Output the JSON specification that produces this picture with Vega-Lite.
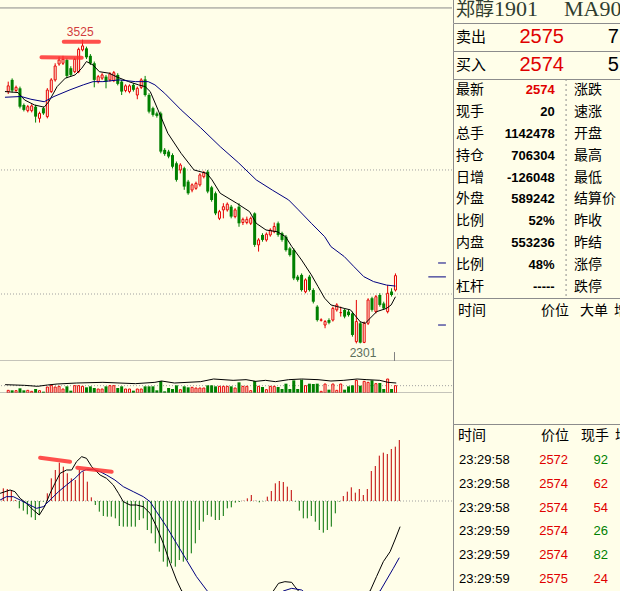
{
"$schema":"https://vega.github.io/schema/vega-lite/v6.json",
"background":"#FFFEE9",
"padding":0,
"spacing":0,
"resolve":{"scale":{"color":"independent"}},
"config":{"view":{"stroke":null},"concat":{"spacing":0},"text":{"font":"Noto Sans CJK SC"}},
"datasets":{
"k":[
{"i":0,"o":3316,"h":3356,"l":3306,"c":3339,"v":8000,"m":3.8},
{"i":1,"o":3363,"h":3369,"l":3312,"c":3320,"v":8000,"m":3.6},
{"i":2,"o":3320,"h":3340,"l":3315,"c":3333,"v":7000,"m":3.3},
{"i":3,"o":3329,"h":3336,"l":3248,"c":3255,"v":14000,"m":0.3},
{"i":4,"o":3262,"h":3268,"l":3236,"c":3242,"v":8000,"m":-2.2},
{"i":5,"o":3239,"h":3262,"l":3232,"c":3255,"v":8000,"m":-2.9},
{"i":6,"o":3239,"h":3265,"l":3232,"c":3258,"v":5000,"m":-4.0},
{"i":7,"o":3255,"h":3262,"l":3191,"c":3215,"v":12000,"m":-4.9},
{"i":8,"o":3208,"h":3235,"l":3191,"c":3228,"v":7000,"m":-5.7},
{"i":9,"o":3249,"h":3255,"l":3222,"c":3228,"v":4000,"m":-4.2},
{"i":10,"o":3215,"h":3330,"l":3208,"c":3322,"v":18000,"m":-0.2},
{"i":11,"o":3316,"h":3370,"l":3310,"c":3363,"v":23000,"m":2.3},
{"i":12,"o":3363,"h":3430,"l":3356,"c":3419,"v":18000,"m":6.8},
{"i":13,"o":3427,"h":3457,"l":3420,"c":3443,"v":20000,"m":9.3},
{"i":14,"o":3430,"h":3460,"l":3423,"c":3446,"v":12000,"m":11.5},
{"i":15,"o":3443,"h":3450,"l":3370,"c":3379,"v":20000,"m":10.3},
{"i":16,"o":3410,"h":3418,"l":3376,"c":3383,"v":7000,"m":8.3},
{"i":17,"o":3396,"h":3453,"l":3390,"c":3446,"v":22000,"m":6.8},
{"i":18,"o":3396,"h":3493,"l":3390,"c":3486,"v":22000,"m":6.3},
{"i":19,"o":3484,"h":3525,"l":3478,"c":3500,"v":20000,"m":9.3},
{"i":20,"o":3490,"h":3497,"l":3447,"c":3454,"v":17000,"m":8.8},
{"i":21,"o":3460,"h":3467,"l":3423,"c":3430,"v":20000,"m":5.8},
{"i":22,"o":3430,"h":3437,"l":3333,"c":3363,"v":15000,"m":1.1},
{"i":23,"o":3356,"h":3383,"l":3349,"c":3376,"v":12000,"m":-1.2},
{"i":24,"o":3370,"h":3390,"l":3363,"c":3383,"v":12000,"m":-3.2},
{"i":25,"o":3376,"h":3383,"l":3329,"c":3356,"v":20000,"m":-4.5},
{"i":26,"o":3363,"h":3394,"l":3356,"c":3387,"v":22000,"m":-4.7},
{"i":27,"o":3360,"h":3399,"l":3354,"c":3392,"v":22000,"m":-4.7},
{"i":28,"o":3383,"h":3390,"l":3341,"c":3347,"v":15000,"m":-5.2},
{"i":29,"o":3356,"h":3363,"l":3302,"c":3316,"v":20000,"m":-7.5},
{"i":30,"o":3320,"h":3345,"l":3313,"c":3339,"v":12000,"m":-7.7},
{"i":31,"o":3316,"h":3345,"l":3309,"c":3339,"v":12000,"m":-7.7},
{"i":32,"o":3343,"h":3350,"l":3316,"c":3323,"v":7000,"m":-7.7},
{"i":33,"o":3302,"h":3336,"l":3285,"c":3329,"v":12000,"m":-7.7},
{"i":34,"o":3333,"h":3370,"l":3326,"c":3363,"v":12000,"m":-5.7},
{"i":35,"o":3365,"h":3379,"l":3296,"c":3302,"v":20000,"m":-5.2},
{"i":36,"o":3302,"h":3309,"l":3228,"c":3235,"v":20000,"m":-8.7},
{"i":37,"o":3249,"h":3255,"l":3215,"c":3222,"v":20000,"m":-9.7},
{"i":38,"o":3228,"h":3235,"l":3211,"c":3218,"v":8000,"m":-12.7},
{"i":39,"o":3228,"h":3235,"l":3067,"c":3074,"v":36000,"m":-15.2},
{"i":40,"o":3081,"h":3088,"l":3057,"c":3064,"v":5000,"m":-18.2},
{"i":41,"o":3074,"h":3081,"l":3047,"c":3054,"v":15000,"m":-19.7},
{"i":42,"o":3060,"h":3067,"l":3006,"c":3013,"v":12000,"m":-18.7},
{"i":43,"o":3027,"h":3034,"l":2953,"c":2960,"v":23000,"m":-19.7},
{"i":44,"o":3000,"h":3027,"l":2986,"c":3020,"v":10000,"m":-17.7},
{"i":45,"o":3007,"h":3013,"l":2920,"c":2933,"v":20000,"m":-18.2},
{"i":46,"o":2953,"h":2960,"l":2900,"c":2906,"v":17000,"m":-17.7},
{"i":47,"o":2919,"h":2946,"l":2910,"c":2940,"v":17000,"m":-15.7},
{"i":48,"o":2926,"h":2953,"l":2920,"c":2946,"v":15000,"m":-12.7},
{"i":49,"o":2940,"h":2987,"l":2933,"c":2980,"v":15000,"m":-8.7},
{"i":50,"o":2973,"h":2996,"l":2966,"c":2989,"v":15000,"m":-6.2},
{"i":51,"o":2993,"h":3000,"l":2906,"c":2913,"v":23000,"m":-4.2},
{"i":52,"o":2930,"h":2936,"l":2872,"c":2879,"v":23000,"m":-4.7},
{"i":53,"o":2906,"h":2913,"l":2818,"c":2825,"v":20000,"m":-5.7},
{"i":54,"o":2805,"h":2839,"l":2798,"c":2832,"v":20000,"m":-5.7},
{"i":55,"o":2839,"h":2866,"l":2805,"c":2852,"v":20000,"m":-4.5},
{"i":56,"o":2839,"h":2869,"l":2832,"c":2862,"v":20000,"m":-2.2},
{"i":57,"o":2852,"h":2859,"l":2805,"c":2812,"v":20000,"m":-1.9},
{"i":58,"o":2812,"h":2846,"l":2805,"c":2839,"v":15000,"m":-0.5},
{"i":59,"o":2852,"h":2866,"l":2771,"c":2785,"v":32000,"m":-0.3},
{"i":60,"o":2788,"h":2808,"l":2778,"c":2801,"v":20000,"m":0.1},
{"i":61,"o":2788,"h":2812,"l":2781,"c":2801,"v":20000,"m":0.8},
{"i":62,"o":2785,"h":2812,"l":2778,"c":2805,"v":7000,"m":1.8},
{"i":63,"o":2825,"h":2829,"l":2690,"c":2698,"v":36000,"m":0.1},
{"i":64,"o":2698,"h":2725,"l":2671,"c":2718,"v":20000,"m":-0.4},
{"i":65,"o":2738,"h":2745,"l":2711,"c":2718,"v":18000,"m":-0.1},
{"i":66,"o":2718,"h":2748,"l":2711,"c":2741,"v":10000,"m":1.3},
{"i":67,"o":2738,"h":2765,"l":2731,"c":2758,"v":20000,"m":3.0},
{"i":68,"o":2751,"h":2788,"l":2745,"c":2772,"v":20000,"m":5.3},
{"i":69,"o":2785,"h":2792,"l":2731,"c":2738,"v":18000,"m":6.0},
{"i":70,"o":2745,"h":2751,"l":2711,"c":2718,"v":12000,"m":5.7},
{"i":71,"o":2731,"h":2738,"l":2671,"c":2677,"v":28000,"m":4.3},
{"i":72,"o":2684,"h":2690,"l":2651,"c":2657,"v":12000,"m":3.3},
{"i":73,"o":2677,"h":2684,"l":2556,"c":2563,"v":38000,"m":-0.2},
{"i":74,"o":2570,"h":2577,"l":2550,"c":2557,"v":12000,"m":-2.9},
{"i":75,"o":2577,"h":2583,"l":2510,"c":2516,"v":40000,"m":-5.2},
{"i":76,"o":2509,"h":2563,"l":2503,"c":2557,"v":22000,"m":-5.2},
{"i":77,"o":2570,"h":2577,"l":2510,"c":2516,"v":28000,"m":-4.5},
{"i":78,"o":2516,"h":2523,"l":2462,"c":2469,"v":27000,"m":-6.2},
{"i":79,"o":2449,"h":2455,"l":2389,"c":2395,"v":28000,"m":-8.7},
{"i":80,"o":2394,"h":2402,"l":2389,"c":2396,"v":5000,"m":-9.5},
{"i":81,"o":2375,"h":2395,"l":2362,"c":2389,"v":27000,"m":-8.7},
{"i":82,"o":2395,"h":2402,"l":2378,"c":2384,"v":10000,"m":-7.7},
{"i":83,"o":2395,"h":2449,"l":2389,"c":2442,"v":27000,"m":-3.7},
{"i":84,"o":2436,"h":2463,"l":2429,"c":2456,"v":8000,"m":-0.2},
{"i":85,"o":2425,"h":2449,"l":2409,"c":2425,"v":27000,"m":1.5},
{"i":86,"o":2436,"h":2442,"l":2402,"c":2409,"v":10000,"m":2.8},
{"i":87,"o":2429,"h":2436,"l":2409,"c":2415,"v":20000,"m":4.1},
{"i":88,"o":2422,"h":2429,"l":2328,"c":2335,"v":23000,"m":2.5},
{"i":89,"o":2308,"h":2476,"l":2301,"c":2389,"v":38000,"m":3.6},
{"i":90,"o":2382,"h":2389,"l":2301,"c":2304,"v":22000,"m":1.8},
{"i":91,"o":2305,"h":2389,"l":2302,"c":2382,"v":35000,"m":3.6},
{"i":92,"o":2382,"h":2483,"l":2375,"c":2476,"v":32000,"m":9.0},
{"i":93,"o":2483,"h":2489,"l":2429,"c":2436,"v":38000,"m":10.5},
{"i":94,"o":2429,"h":2496,"l":2422,"c":2489,"v":28000,"m":13.6},
{"i":95,"o":2496,"h":2503,"l":2449,"c":2456,"v":30000,"m":14.5},
{"i":96,"o":2462,"h":2469,"l":2436,"c":2442,"v":12000,"m":14.1},
{"i":97,"o":2429,"h":2536,"l":2422,"c":2503,"v":42000,"m":15.6},
{"i":98,"o":2510,"h":2523,"l":2490,"c":2496,"v":12000,"m":16.3},
{"i":99,"o":2516,"h":2583,"l":2510,"c":2574,"v":22000,"m":18.3}
],
"ma":[
{"i":-0.83,"p":3316,"s":"MA5"},{"i":2.5,"p":3312,"s":"MA5"},{"i":4.2,"p":3282,"s":"MA5"},{"i":6.7,"p":3262,"s":"MA5"},{"i":9.2,"p":3253,"s":"MA5"},{"i":10.4,"p":3276,"s":"MA5"},{"i":12.5,"p":3336,"s":"MA5"},{"i":14.6,"p":3370,"s":"MA5"},{"i":17.1,"p":3383,"s":"MA5"},{"i":18.8,"p":3410,"s":"MA5"},{"i":20.0,"p":3437,"s":"MA5"},{"i":21.7,"p":3423,"s":"MA5"},{"i":23.3,"p":3396,"s":"MA5"},{"i":25.8,"p":3390,"s":"MA5"},{"i":27.9,"p":3374,"s":"MA5"},{"i":30.8,"p":3356,"s":"MA5"},{"i":33.3,"p":3343,"s":"MA5"},{"i":35.0,"p":3336,"s":"MA5"},{"i":36.3,"p":3316,"s":"MA5"},{"i":38.3,"p":3242,"s":"MA5"},{"i":40.8,"p":3148,"s":"MA5"},{"i":44.2,"p":3067,"s":"MA5"},{"i":47.5,"p":3000,"s":"MA5"},{"i":50.8,"p":2986,"s":"MA5"},{"i":52.1,"p":2960,"s":"MA5"},{"i":54.2,"p":2906,"s":"MA5"},{"i":58.4,"p":2866,"s":"MA5"},{"i":61.7,"p":2832,"s":"MA5"},{"i":63.4,"p":2785,"s":"MA5"},{"i":65.9,"p":2758,"s":"MA5"},{"i":68.8,"p":2751,"s":"MA5"},{"i":70.9,"p":2731,"s":"MA5"},{"i":72.5,"p":2691,"s":"MA5"},{"i":75.0,"p":2637,"s":"MA5"},{"i":77.5,"p":2577,"s":"MA5"},{"i":79.2,"p":2530,"s":"MA5"},{"i":80.9,"p":2483,"s":"MA5"},{"i":82.5,"p":2456,"s":"MA5"},{"i":84.2,"p":2449,"s":"MA5"},{"i":85.9,"p":2442,"s":"MA5"},{"i":87.5,"p":2436,"s":"MA5"},{"i":90.0,"p":2388,"s":"MA5"},{"i":91.3,"p":2382,"s":"MA5"},{"i":92.5,"p":2402,"s":"MA5"},{"i":94.2,"p":2429,"s":"MA5"},{"i":96.7,"p":2442,"s":"MA5"},{"i":97.9,"p":2456,"s":"MA5"},{"i":99.0,"p":2489,"s":"MA5"},
{"i":-0.83,"p":3293,"s":"MA20"},{"i":3.3,"p":3296,"s":"MA20"},{"i":5.8,"p":3285,"s":"MA20"},{"i":9.2,"p":3275,"s":"MA20"},{"i":11.7,"p":3296,"s":"MA20"},{"i":15.8,"p":3323,"s":"MA20"},{"i":19.2,"p":3343,"s":"MA20"},{"i":21.7,"p":3356,"s":"MA20"},{"i":24.2,"p":3356,"s":"MA20"},{"i":28.3,"p":3363,"s":"MA20"},{"i":32.5,"p":3356,"s":"MA20"},{"i":35.8,"p":3356,"s":"MA20"},{"i":37.5,"p":3343,"s":"MA20"},{"i":40.0,"p":3309,"s":"MA20"},{"i":44.2,"p":3242,"s":"MA20"},{"i":49.2,"p":3170,"s":"MA20"},{"i":54.2,"p":3094,"s":"MA20"},{"i":58.8,"p":3030,"s":"MA20"},{"i":63.4,"p":2960,"s":"MA20"},{"i":67.5,"p":2919,"s":"MA20"},{"i":71.7,"p":2879,"s":"MA20"},{"i":74.2,"p":2839,"s":"MA20"},{"i":77.5,"p":2785,"s":"MA20"},{"i":80.9,"p":2731,"s":"MA20"},{"i":82.5,"p":2691,"s":"MA20"},{"i":85.9,"p":2651,"s":"MA20"},{"i":88.4,"p":2610,"s":"MA20"},{"i":90.9,"p":2570,"s":"MA20"},{"i":93.4,"p":2550,"s":"MA20"},{"i":96.7,"p":2536,"s":"MA20"},{"i":99.0,"p":2532,"s":"MA20"}
],
"ml":[
{"i":-0.8,"m":2.3,"s":"DIF"},{"i":1.7,"m":3.3,"s":"DIF"},{"i":2.9,"m":2.8,"s":"DIF"},{"i":4.2,"m":0.8,"s":"DIF"},{"i":5.8,"m":-0.7,"s":"DIF"},{"i":7.5,"m":-2.7,"s":"DIF"},{"i":9.0,"m":-4.2,"s":"DIF"},{"i":10.4,"m":-1.5,"s":"DIF"},{"i":11.7,"m":2.3,"s":"DIF"},{"i":12.9,"m":5.3,"s":"DIF"},{"i":14.2,"m":8.3,"s":"DIF"},{"i":15.8,"m":9.3,"s":"DIF"},{"i":17.1,"m":9.3,"s":"DIF"},{"i":18.3,"m":11.8,"s":"DIF"},{"i":19.6,"m":13.3,"s":"DIF"},{"i":20.8,"m":12.8,"s":"DIF"},{"i":22.1,"m":10.3,"s":"DIF"},{"i":24.2,"m":7.8,"s":"DIF"},{"i":25.8,"m":6.8,"s":"DIF"},{"i":27.5,"m":4.8,"s":"DIF"},{"i":28.8,"m":2.3,"s":"DIF"},{"i":30.0,"m":-0.2,"s":"DIF"},{"i":31.7,"m":-1.2,"s":"DIF"},{"i":33.3,"m":-1.2,"s":"DIF"},{"i":35.0,"m":-1.7,"s":"DIF"},{"i":36.7,"m":-3.7,"s":"DIF"},{"i":38.3,"m":-7.7,"s":"DIF"},{"i":40.0,"m":-12.7,"s":"DIF"},{"i":41.7,"m":-18.7,"s":"DIF"},{"i":43.3,"m":-23.7,"s":"DIF"},{"i":44.6,"m":-27.0,"s":"DIF"},{"i":47,"m":-28.4,"s":"DIF"},{"i":51,"m":-30.1,"s":"DIF"},{"i":55,"m":-34.2,"s":"DIF"},{"i":59,"m":-33.6,"s":"DIF"},{"i":63,"m":-32.5,"s":"DIF"},{"i":66,"m":-29.4,"s":"DIF"},{"i":67.5,"m":-27.0,"s":"DIF"},{"i":68.8,"m":-24.7,"s":"DIF"},{"i":70.4,"m":-24.2,"s":"DIF"},{"i":72.1,"m":-24.4,"s":"DIF"},{"i":72.9,"m":-25.7,"s":"DIF"},{"i":73.8,"m":-27.0,"s":"DIF"},{"i":76,"m":-30.6,"s":"DIF"},{"i":80,"m":-36.2,"s":"DIF"},{"i":84,"m":-32.6,"s":"DIF"},{"i":88,"m":-29.2,"s":"DIF"},{"i":91.7,"m":-27.0,"s":"DIF"},{"i":93.3,"m":-22.7,"s":"DIF"},{"i":95.0,"m":-18.2,"s":"DIF"},{"i":96.7,"m":-15.2,"s":"DIF"},{"i":97.9,"m":-11.7,"s":"DIF"},{"i":99.2,"m":-7.7,"s":"DIF"},
{"i":-0.8,"m":0.3,"s":"DEA"},{"i":0.8,"m":1.3,"s":"DEA"},{"i":2.5,"m":1.3,"s":"DEA"},{"i":4.2,"m":0.3,"s":"DEA"},{"i":5.8,"m":-0.7,"s":"DEA"},{"i":8.3,"m":-2.2,"s":"DEA"},{"i":10.0,"m":-1.7,"s":"DEA"},{"i":11.7,"m":0.3,"s":"DEA"},{"i":13.8,"m":2.8,"s":"DEA"},{"i":15.8,"m":4.8,"s":"DEA"},{"i":17.9,"m":6.8,"s":"DEA"},{"i":19.6,"m":8.8,"s":"DEA"},{"i":20.8,"m":9.5,"s":"DEA"},{"i":22.5,"m":9.5,"s":"DEA"},{"i":24.2,"m":8.8,"s":"DEA"},{"i":25.8,"m":7.8,"s":"DEA"},{"i":27.9,"m":6.3,"s":"DEA"},{"i":30.0,"m":4.3,"s":"DEA"},{"i":32.5,"m":2.8,"s":"DEA"},{"i":35.0,"m":1.3,"s":"DEA"},{"i":36.7,"m":-0.2,"s":"DEA"},{"i":38.3,"m":-3.2,"s":"DEA"},{"i":40.8,"m":-7.7,"s":"DEA"},{"i":43.3,"m":-12.7,"s":"DEA"},{"i":45.8,"m":-17.7,"s":"DEA"},{"i":48.3,"m":-22.7,"s":"DEA"},{"i":50.8,"m":-26.7,"s":"DEA"},{"i":54,"m":-31,"s":"DEA"},{"i":58,"m":-33.5,"s":"DEA"},{"i":62,"m":-33,"s":"DEA"},{"i":66,"m":-30,"s":"DEA"},{"i":70.0,"m":-27.0,"s":"DEA"},{"i":72.1,"m":-26.2,"s":"DEA"},{"i":74.6,"m":-26.7,"s":"DEA"},{"i":77,"m":-29,"s":"DEA"},{"i":81,"m":-32,"s":"DEA"},{"i":85,"m":-32.5,"s":"DEA"},{"i":89,"m":-30,"s":"DEA"},{"i":94.2,"m":-27.0,"s":"DEA"},{"i":95.8,"m":-23.7,"s":"DEA"},{"i":97.5,"m":-20.2,"s":"DEA"},{"i":99.0,"m":-17.0,"s":"DEA"}
],
"oi":[
{"i":-0.8,"v":25000},{"i":4.2,"v":23000},{"i":7.5,"v":20000},{"i":10,"v":24000},{"i":12.5,"v":27000},{"i":17.5,"v":30000},{"i":24.2,"v":32000},{"i":32.5,"v":28000},{"i":37.5,"v":32000},{"i":39.2,"v":36000},{"i":42.5,"v":30000},{"i":49.2,"v":34000},{"i":52.5,"v":42000},{"i":57.5,"v":38000},{"i":60.8,"v":40000},{"i":63.3,"v":35000},{"i":65.8,"v":38000},{"i":68.3,"v":34000},{"i":71.7,"v":40000},{"i":75,"v":42000},{"i":79.2,"v":40000},{"i":82.5,"v":36000},{"i":85.8,"v":38000},{"i":89.2,"v":42000},{"i":91.7,"v":40000},{"i":95,"v":38000},{"i":97.1,"v":32000},{"i":99.2,"v":30000}
],
"hlk":[{"i":8.5,"i2":18.8,"p":3454,"p2":3452},{"i":14.2,"i2":23.2,"p":3517,"p2":3517}],
"hlm":[{"i":9.2,"i2":16.7,"m":13.0,"m2":11.8},{"i":18.5,"i2":27.1,"m":10.0,"m2":8.8}],
"mk":[{"i":109.9,"i2":111.9,"p":2625},{"i":107.4,"i2":111.9,"p":2569},{"i":109.9,"i2":111.9,"p":2375}],
"lab":[{"i":18.4,"p":3556,"text":"3525","kind":"high"},{"i":90.7,"p":2262,"text":"2301","kind":"low"}],
"cur":[{"i":98.75,"p":2266,"p2":2230}],
"info":[
{"r":1,"k":"最新","v":"2574","k2":"涨跌","t":"price"},
{"r":2,"k":"现手","v":"20","k2":"速涨","t":"n"},
{"r":3,"k":"总手","v":"1142478","k2":"开盘","t":"n"},
{"r":4,"k":"持仓","v":"706304","k2":"最高","t":"n"},
{"r":5,"k":"日增","v":"-126048","k2":"最低","t":"n"},
{"r":6,"k":"外盘","v":"589242","k2":"结算价","t":"n"},
{"r":7,"k":"比例","v":"52%","k2":"昨收","t":"n"},
{"r":8,"k":"内盘","v":"553236","k2":"昨结","t":"n"},
{"r":9,"k":"比例","v":"48%","k2":"涨停","t":"n"},
{"r":10,"k":"杠杆","v":"-----","k2":"跌停","t":"n"}
],
"ticks":[
{"r":1,"time":"23:29:58","price":"2572","q":"92","d":"dn"},
{"r":2,"time":"23:29:58","price":"2574","q":"62","d":"up"},
{"r":3,"time":"23:29:58","price":"2574","q":"54","d":"up"},
{"r":4,"time":"23:29:59","price":"2574","q":"26","d":"dn"},
{"r":5,"time":"23:29:59","price":"2574","q":"82","d":"dn"},
{"r":6,"time":"23:29:59","price":"2575","q":"24","d":"up"}
]
},
"hconcat":[
{"spacing":0,"bounds":"flush","resolve":{"scale":{"color":"independent"}},"vconcat":[
{"width":452,"height":361,
 "resolve":{"scale":{"color":"independent"}},
 "layer":[
  {"data":{"values":[{"p":3000},{"p":2500}]},"mark":{"type":"rule","color":"#a0a0a0","strokeDash":[1,2],"clip":true},
   "encoding":{"y":{"field":"p","type":"quantitative","scale":{"domain":[2230,3685],"nice":false,"zero":false},"axis":null}}},
  {"data":{"values":[{"p":3653},{"p":2230}]},"mark":{"type":"rule","color":"#8a8a8a","clip":true},
   "encoding":{"y":{"field":"p","type":"quantitative","scale":{"domain":[2230,3685],"nice":false,"zero":false},"axis":null}}},
  {"data":{"name":"k"},"mark":{"type":"rule","clip":true},
   "encoding":{"x":{"field":"i","type":"quantitative","scale":{"domain":[-0.825,112.175],"nice":false,"zero":false},"axis":null},
    "y":{"field":"l","type":"quantitative","scale":{"domain":[2230,3685],"nice":false,"zero":false},"axis":null},"y2":{"field":"h"},
    "color":{"condition":{"test":"datum.c >= datum.o","value":"#e60000"},"value":"#008000"}}},
  {"data":{"name":"k"},"transform":[{"filter":"datum.c >= datum.o"}],
   "mark":{"type":"bar","width":2,"fill":"#FFFEE9","stroke":"#e60000","strokeWidth":1,"clip":true},
   "encoding":{"x":{"field":"i","type":"quantitative","scale":{"domain":[-0.825,112.175],"nice":false,"zero":false},"axis":null},
    "y":{"field":"o","type":"quantitative","scale":{"domain":[2230,3685],"nice":false,"zero":false},"axis":null},"y2":{"field":"c"}}},
  {"data":{"name":"k"},"transform":[{"filter":"datum.c < datum.o"}],
   "mark":{"type":"bar","width":3,"color":"#008000","clip":true},
   "encoding":{"x":{"field":"i","type":"quantitative","scale":{"domain":[-0.825,112.175],"nice":false,"zero":false},"axis":null},
    "y":{"field":"o","type":"quantitative","scale":{"domain":[2230,3685],"nice":false,"zero":false},"axis":null},"y2":{"field":"c"}}},
  {"data":{"name":"ma"},"mark":{"type":"line","strokeWidth":1,"clip":true},
   "encoding":{"x":{"field":"i","type":"quantitative","scale":{"domain":[-0.825,112.175],"nice":false,"zero":false},"axis":null},
    "y":{"field":"p","type":"quantitative","scale":{"domain":[2230,3685],"nice":false,"zero":false},"axis":null},
    "color":{"field":"s","type":"nominal","scale":{"domain":["MA5","MA20"],"range":["#000000","#000080"]},"legend":null}}},
  {"data":{"name":"hlk"},"mark":{"type":"rule","color":"#ff3030","strokeWidth":4,"opacity":0.85,"strokeCap":"round","clip":true},
   "encoding":{"x":{"field":"i","type":"quantitative","scale":{"domain":[-0.825,112.175],"nice":false,"zero":false},"axis":null},"x2":{"field":"i2"},
    "y":{"field":"p","type":"quantitative","scale":{"domain":[2230,3685],"nice":false,"zero":false},"axis":null},"y2":{"field":"p2"}}},
  {"data":{"name":"mk"},"mark":{"type":"rule","color":"#000080","clip":true},
   "encoding":{"x":{"field":"i","type":"quantitative","scale":{"domain":[-0.825,112.175],"nice":false,"zero":false},"axis":null},"x2":{"field":"i2"},
    "y":{"field":"p","type":"quantitative","scale":{"domain":[2230,3685],"nice":false,"zero":false},"axis":null}}},
  {"data":{"name":"cur"},"mark":{"type":"rule","color":"#808080","clip":true},
   "encoding":{"x":{"field":"i","type":"quantitative","scale":{"domain":[-0.825,112.175],"nice":false,"zero":false},"axis":null},
    "y":{"field":"p","type":"quantitative","scale":{"domain":[2230,3685],"nice":false,"zero":false},"axis":null},"y2":{"field":"p2"}}},
  {"data":{"name":"lab"},"mark":{"type":"text","fontSize":12,"font":"Liberation Sans","baseline":"middle","clip":true},
   "encoding":{"x":{"field":"i","type":"quantitative","scale":{"domain":[-0.825,112.175],"nice":false,"zero":false},"axis":null},
    "y":{"field":"p","type":"quantitative","scale":{"domain":[2230,3685],"nice":false,"zero":false},"axis":null},
    "text":{"field":"text"},
    "color":{"field":"kind","type":"nominal","scale":{"domain":["high","low"],"range":["#d23c3c","#5b6e5b"]},"legend":null}}}
 ]},
{"width":452,"height":32,
 "layer":[
  {"data":{"values":[{"v":22000}]},"mark":{"type":"rule","color":"#a0a0a0","strokeDash":[1,2],"clip":true},
   "encoding":{"y":{"field":"v","type":"quantitative","scale":{"domain":[0,96000],"nice":false,"zero":false},"axis":null}}},
  {"data":{"name":"k"},"transform":[{"filter":"datum.c >= datum.o"}],
   "mark":{"type":"bar","width":2,"fill":"#FFFEE9","stroke":"#e60000","strokeWidth":1,"clip":true},
   "encoding":{"x":{"field":"i","type":"quantitative","scale":{"domain":[-0.825,112.175],"nice":false,"zero":false},"axis":null},
    "y":{"field":"v","type":"quantitative","scale":{"domain":[0,96000],"nice":false,"zero":false},"axis":null},"y2":{"datum":0}}},
  {"data":{"name":"k"},"transform":[{"filter":"datum.c < datum.o"}],
   "mark":{"type":"bar","width":3,"color":"#008000","clip":true},
   "encoding":{"x":{"field":"i","type":"quantitative","scale":{"domain":[-0.825,112.175],"nice":false,"zero":false},"axis":null},
    "y":{"field":"v","type":"quantitative","scale":{"domain":[0,96000],"nice":false,"zero":false},"axis":null},"y2":{"datum":0}}},
  {"data":{"name":"oi"},"mark":{"type":"line","color":"#000000","strokeWidth":1,"clip":true},
   "encoding":{"x":{"field":"i","type":"quantitative","scale":{"domain":[-0.825,112.175],"nice":false,"zero":false},"axis":null},
    "y":{"field":"v","type":"quantitative","scale":{"domain":[0,96000],"nice":false,"zero":false},"axis":null}}},
  {"data":{"values":[{"v":0}]},"mark":{"type":"rule","color":"#8a8a8a","clip":true},
   "encoding":{"y":{"field":"v","type":"quantitative","scale":{"domain":[0,96000],"nice":false,"zero":false},"axis":null}}}
 ]},
{"width":452,"height":198,
 "resolve":{"scale":{"color":"independent"}},
 "layer":[
  {"data":{"values":[{"m":0}]},"mark":{"type":"rule","color":"#a0a0a0","strokeDash":[1,2],"clip":true},
   "encoding":{"y":{"field":"m","type":"quantitative","scale":{"domain":[-27,32.4],"nice":false,"zero":false},"axis":null}}},
  {"data":{"name":"k"},"mark":{"type":"rule","clip":true},
   "encoding":{"x":{"field":"i","type":"quantitative","scale":{"domain":[-0.825,112.175],"nice":false,"zero":false},"axis":null},
    "y":{"field":"m","type":"quantitative","scale":{"domain":[-27,32.4],"nice":false,"zero":false},"axis":null},"y2":{"datum":0},
    "color":{"condition":{"test":"datum.m >= 0","value":"#c00000"},"value":"#007000"}}},
  {"data":{"name":"ml"},"mark":{"type":"line","strokeWidth":1,"clip":true},
   "encoding":{"x":{"field":"i","type":"quantitative","scale":{"domain":[-0.825,112.175],"nice":false,"zero":false},"axis":null},
    "y":{"field":"m","type":"quantitative","scale":{"domain":[-27,32.4],"nice":false,"zero":false},"axis":null},
    "color":{"field":"s","type":"nominal","scale":{"domain":["DIF","DEA"],"range":["#000000","#000080"]},"legend":null}}},
  {"data":{"name":"hlm"},"mark":{"type":"rule","color":"#ff3030","strokeWidth":4,"opacity":0.85,"strokeCap":"round","clip":true},
   "encoding":{"x":{"field":"i","type":"quantitative","scale":{"domain":[-0.825,112.175],"nice":false,"zero":false},"axis":null},"x2":{"field":"i2"},
    "y":{"field":"m","type":"quantitative","scale":{"domain":[-27,32.4],"nice":false,"zero":false},"axis":null},"y2":{"field":"m2"}}}
 ]}
]},
{"spacing":0,"bounds":"flush","resolve":{"scale":{"color":"independent"}},"vconcat":[
{"width":168,"height":23,"data":{"values":[{"a":"郑醇","b":"1901","c":"MA901"}]},
 "layer":[
  {"mark":{"type":"rule","color":"#8c8c8c","clip":true},"encoding":{"x":{"datum":0.3,"type":"quantitative","scale":{"domain":[0,100],"nice":false,"zero":false},"axis":null}}},
  {"mark":{"type":"text","align":"left","baseline":"alphabetic","dy":4,"fontSize":19,"color":"#2f3d2f","clip":true},
   "encoding":{"x":{"datum":1.8,"type":"quantitative","scale":{"domain":[0,100],"nice":false,"zero":false},"axis":null},"text":{"field":"a"}}},
  {"mark":{"type":"text","align":"left","baseline":"alphabetic","dy":4.5,"fontSize":22,"font":"Liberation Serif","color":"#2f3d2f","clip":true},
   "encoding":{"x":{"datum":24.4,"type":"quantitative","scale":{"domain":[0,100],"nice":false,"zero":false},"axis":null},"text":{"field":"b"}}},
  {"mark":{"type":"text","align":"left","baseline":"alphabetic","dy":4.5,"fontSize":22,"font":"Liberation Serif","color":"#2f3d2f","clip":true},
   "encoding":{"x":{"datum":66.1,"type":"quantitative","scale":{"domain":[0,100],"nice":false,"zero":false},"axis":null},"text":{"field":"c"}}}
 ]},
{"width":168,"height":28,"view":{"stroke":"#8c8c8c"},"data":{"values":[{"side":"卖出","price":"2575","qty":"7"}]},
 "layer":[
  {"mark":{"type":"text","align":"left","baseline":"middle","fontSize":15,"color":"#000000"},"encoding":{"x":{"datum":1.8,"type":"quantitative","scale":{"domain":[0,100],"nice":false,"zero":false},"axis":null},"text":{"field":"side"}}},
  {"mark":{"type":"text","align":"right","baseline":"middle","fontSize":20,"font":"Liberation Sans","color":"#e00000"},"encoding":{"x":{"datum":66,"type":"quantitative","scale":{"domain":[0,100],"nice":false,"zero":false},"axis":null},"text":{"field":"price"}}},
  {"mark":{"type":"text","align":"right","baseline":"middle","fontSize":20,"font":"Liberation Sans","color":"#000000"},"encoding":{"x":{"datum":98.8,"type":"quantitative","scale":{"domain":[0,100],"nice":false,"zero":false},"axis":null},"text":{"field":"qty"}}}
 ]},
{"width":168,"height":28,"view":{"stroke":"#8c8c8c"},"data":{"values":[{"side":"买入","price":"2574","qty":"5"}]},
 "layer":[
  {"mark":{"type":"text","align":"left","baseline":"middle","fontSize":15,"color":"#000000"},"encoding":{"x":{"datum":1.8,"type":"quantitative","scale":{"domain":[0,100],"nice":false,"zero":false},"axis":null},"text":{"field":"side"}}},
  {"mark":{"type":"text","align":"right","baseline":"middle","fontSize":20,"font":"Liberation Sans","color":"#e00000"},"encoding":{"x":{"datum":66,"type":"quantitative","scale":{"domain":[0,100],"nice":false,"zero":false},"axis":null},"text":{"field":"price"}}},
  {"mark":{"type":"text","align":"right","baseline":"middle","fontSize":20,"font":"Liberation Sans","color":"#000000"},"encoding":{"x":{"datum":98.8,"type":"quantitative","scale":{"domain":[0,100],"nice":false,"zero":false},"axis":null},"text":{"field":"qty"}}}
 ]},
{"width":168,"height":219,"view":{"stroke":"#8c8c8c"},
 "layer":[
  {"data":{"values":[{"z":1}]},"mark":{"type":"rule","color":"#8c8c8c","strokeDash":[2,3]},"encoding":{"x":{"datum":67.3,"type":"quantitative","scale":{"domain":[0,100],"nice":false,"zero":false},"axis":null}}},
  {"data":{"name":"info"},"mark":{"type":"text","align":"left","baseline":"middle","fontSize":14,"color":"#000000"},
   "encoding":{"x":{"datum":1.8,"type":"quantitative","scale":{"domain":[0,100],"nice":false,"zero":false},"axis":null},"y":{"field":"r","type":"ordinal","scale":{"paddingInner":0,"paddingOuter":0},"axis":null},"text":{"field":"k"}}},
  {"data":{"name":"info"},"mark":{"type":"text","align":"right","baseline":"middle","fontSize":13,"fontWeight":"bold","font":"Liberation Sans"},
   "encoding":{"x":{"datum":60.5,"type":"quantitative","scale":{"domain":[0,100],"nice":false,"zero":false},"axis":null},"y":{"field":"r","type":"ordinal","scale":{"paddingInner":0,"paddingOuter":0},"axis":null},"text":{"field":"v"},
    "color":{"field":"t","type":"nominal","scale":{"domain":["price","n"],"range":["#e00000","#000000"]},"legend":null}}},
  {"data":{"name":"info"},"mark":{"type":"text","align":"left","baseline":"middle","fontSize":14,"color":"#000000","clip":true},
   "encoding":{"x":{"datum":72,"type":"quantitative","scale":{"domain":[0,100],"nice":false,"zero":false},"axis":null},"y":{"field":"r","type":"ordinal","scale":{"paddingInner":0,"paddingOuter":0},"axis":null},"text":{"field":"k2"}}}
 ]},
{"width":168,"height":126,"view":{"stroke":"#8c8c8c"},"data":{"values":[{"r":0,"a":"时间","b":"价位","c":"大单","d":"增仓"}]},
 "encoding":{"y":{"field":"r","type":"ordinal","scale":{"domain":[0,1,2,3,4],"paddingInner":0,"paddingOuter":0},"axis":null}},
 "layer":[
  {"mark":{"type":"text","align":"left","baseline":"middle","fontSize":14,"color":"#000000"},"encoding":{"x":{"datum":3,"type":"quantitative","scale":{"domain":[0,100],"nice":false,"zero":false},"axis":null},"text":{"field":"a"}}},
  {"mark":{"type":"text","align":"left","baseline":"middle","fontSize":14,"color":"#000000"},"encoding":{"x":{"datum":52.4,"type":"quantitative","scale":{"domain":[0,100],"nice":false,"zero":false},"axis":null},"text":{"field":"b"}}},
  {"mark":{"type":"text","align":"left","baseline":"middle","fontSize":14,"color":"#000000"},"encoding":{"x":{"datum":75.6,"type":"quantitative","scale":{"domain":[0,100],"nice":false,"zero":false},"axis":null},"text":{"field":"c"}}},
  {"mark":{"type":"text","align":"left","baseline":"middle","fontSize":14,"color":"#000000","clip":true},"encoding":{"x":{"datum":95.8,"type":"quantitative","scale":{"domain":[0,100],"nice":false,"zero":false},"axis":null},"text":{"field":"d"}}}
 ]},
{"width":168,"height":167,"view":{"stroke":"#8c8c8c"},
 "encoding":{"y":{"field":"r","type":"ordinal","scale":{"domain":[0,1,2,3,4,5,6],"paddingInner":0,"paddingOuter":0},"axis":null}},
 "layer":[
  {"data":{"values":[{"r":0,"a":"时间","b":"价位","c":"现手","d":"增仓"}]},
   "layer":[
    {"mark":{"type":"text","align":"left","baseline":"middle","fontSize":14,"color":"#000000"},"encoding":{"x":{"datum":3,"type":"quantitative","scale":{"domain":[0,100],"nice":false,"zero":false},"axis":null},"text":{"field":"a"}}},
    {"mark":{"type":"text","align":"left","baseline":"middle","fontSize":14,"color":"#000000"},"encoding":{"x":{"datum":52.4,"type":"quantitative","scale":{"domain":[0,100],"nice":false,"zero":false},"axis":null},"text":{"field":"b"}}},
    {"mark":{"type":"text","align":"left","baseline":"middle","fontSize":14,"color":"#000000"},"encoding":{"x":{"datum":76.2,"type":"quantitative","scale":{"domain":[0,100],"nice":false,"zero":false},"axis":null},"text":{"field":"c"}}},
    {"mark":{"type":"text","align":"left","baseline":"middle","fontSize":14,"color":"#000000","clip":true},"encoding":{"x":{"datum":96.4,"type":"quantitative","scale":{"domain":[0,100],"nice":false,"zero":false},"axis":null},"text":{"field":"d"}}}
   ]},
  {"data":{"name":"ticks"},
   "layer":[
    {"mark":{"type":"text","align":"left","baseline":"middle","fontSize":13,"font":"Liberation Sans","color":"#000000"},"encoding":{"x":{"datum":3.6,"type":"quantitative","scale":{"domain":[0,100],"nice":false,"zero":false},"axis":null},"text":{"field":"time"}}},
    {"mark":{"type":"text","align":"right","baseline":"middle","fontSize":13,"font":"Liberation Sans","color":"#e00000"},"encoding":{"x":{"datum":68.5,"type":"quantitative","scale":{"domain":[0,100],"nice":false,"zero":false},"axis":null},"text":{"field":"price"}}},
    {"mark":{"type":"text","align":"right","baseline":"middle","fontSize":13,"font":"Liberation Sans"},"encoding":{"x":{"datum":92.3,"type":"quantitative","scale":{"domain":[0,100],"nice":false,"zero":false},"axis":null},"text":{"field":"q"},
     "color":{"field":"d","type":"nominal","scale":{"domain":["up","dn"],"range":["#e00000","#008000"]},"legend":null}}}
   ]}
 ]}
]}
]
}
